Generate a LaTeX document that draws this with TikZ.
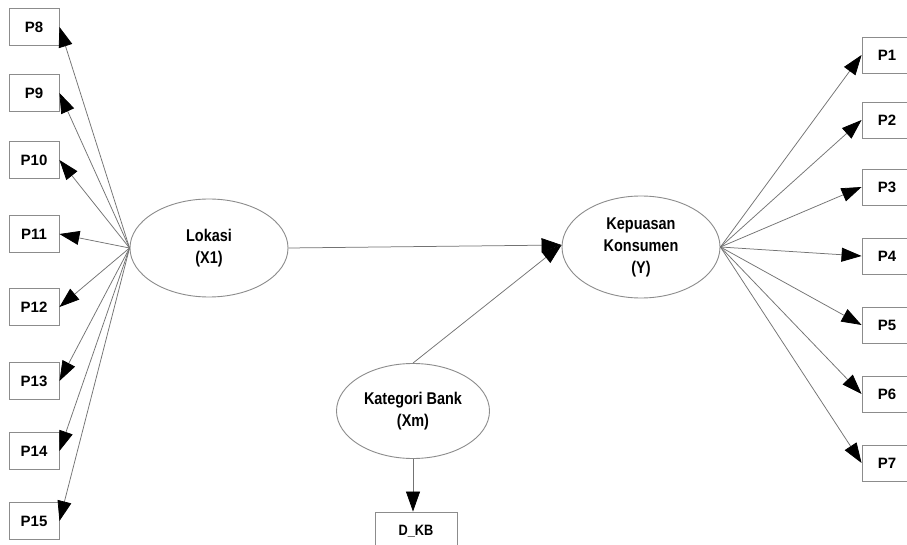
\documentclass[tikz,border=0pt]{standalone}
\usepackage{fontspec}
\setmainfont{Liberation Sans}
\newfontfamily\narrowsans[FakeStretch=0.85]{Liberation Sans}
\usetikzlibrary{arrows.meta,shapes.geometric}
\begin{document}
\begin{tikzpicture}[x=1pt,y=-1pt,
  indicator/.style={draw=black!45,line width=0.9pt,fill=white,minimum width=50pt,minimum height=37pt,inner sep=0pt,font=\bfseries\fontsize{15}{16}\selectfont},
  latent/.style={ellipse,draw=black!45,line width=0.9pt,fill=white,inner sep=0pt,align=center,font=\narrowsans\bfseries\fontsize{17}{22}\selectfont},
  link/.style={draw=black!55,line width=0.75pt,-{Triangle[length=20pt,width=14pt,color=black,fill=black]}}]
\useasboundingbox (0,0) rectangle (907,545);
\fill[white] (0,0) rectangle (907,545);
\begin{scope}
\clip (0,0) rectangle (907,545);
% latent constructs
\node[latent,minimum width=158pt,minimum height=98pt] (lok) at (209,248) {Lokasi\\(X1)};
\node[latent,minimum width=158pt,minimum height=102pt] (kep) at (641,247) {Kepuasan\\Konsumen\\(Y)};
\node[latent,minimum width=153pt,minimum height=95pt] (kat) at (413,411) {Kategori Bank\\(Xm)};
% indicators of Lokasi
\foreach \n/\y in {8/27,9/93,10/160,11/234,12/307,13/381,14/451,15/521}
  \node[indicator] (p\n) at (34,\y) {P\n};
% indicators of Kepuasan Konsumen
\foreach \n/\y in {1/55,2/120,3/187,4/256,5/325,6/394,7/463}
  \node[indicator,minimum height=36pt] (p\n) at (887,\y) {P\n};
\node[indicator,minimum width=82pt,minimum height=38pt,font=\narrowsans\bfseries\fontsize{15}{16}\selectfont] (dkb) at (416,531) {D\_KB};
% hubs where the loadings fan out
\coordinate (hl) at (lok.west);
\coordinate (hr) at (kep.east);
\coordinate (kin) at ([yshift=2pt]kep.west);
\foreach \n in {8,...,15} \draw[link] (hl) -- (p\n.east);
\foreach \n in {1,...,7} \draw[link] (hr) -- (p\n.west);
% structural paths
\draw[link] (lok.east) -- (kin);
\draw[link] (kat.north) -- (kin);
\draw[link] (kat.south) -- (kat.south |- dkb.north);
\end{scope}
\end{tikzpicture}
\end{document}
